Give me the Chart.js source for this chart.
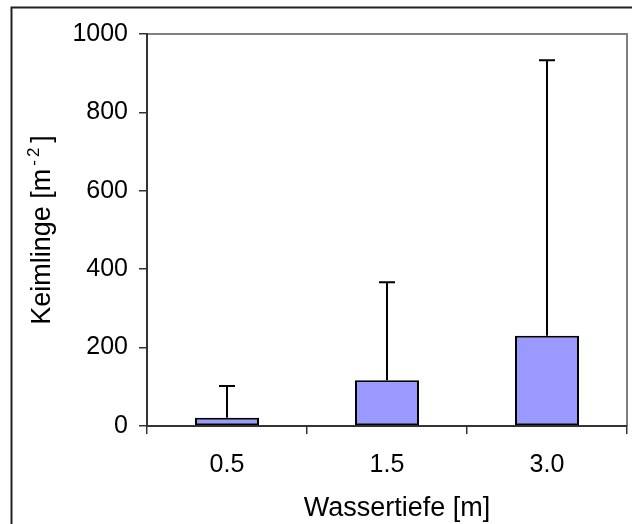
<!DOCTYPE html>
<html>
<head>
<meta charset="utf-8">
<script src="https://cdn.jsdelivr.net/npm/chart.js@4/dist/chart.umd.min.js"></script>
<style>
  html, body { margin: 0; padding: 0; background: #fff; }
  #wrap { position: relative; width: 632px; height: 524px; }
</style>
</head>
<body>
<div id="wrap"><canvas id="chart" width="632" height="524"></canvas></div>
<script>
    // Daten
    var depthLabels = ['0.5', '1.5', '3.0'];
    var meanValues = [21, 117, 230];
    var upperValues = [102, 367, 933];
    var yTicks = [0, 200, 400, 600, 800, 1000];

    var FONT = '"Liberation Sans", Arial, sans-serif';
    var TICK_SIZE = 25;
    var TITLE_SIZE = 27;

    // Rahmen: äußere Linien oben/links, Plotfläche grau oben/rechts
    var framePlugin = {
        id: 'frame',
        beforeDraw: function (chart) {
            var ctx = chart.ctx;
            var a = chart.chartArea;
            ctx.save();
            ctx.fillStyle = '#fff';
            ctx.fillRect(0, 0, chart.width, chart.height);
            ctx.strokeStyle = '#222';
            ctx.lineWidth = 2;
            ctx.beginPath();
            ctx.moveTo(11.5, chart.height + 2);
            ctx.lineTo(11.5, 7.5);
            ctx.lineTo(chart.width + 2, 7.5);
            ctx.stroke();
            ctx.strokeStyle = '#808080';
            ctx.lineWidth = 2;
            ctx.beginPath();
            ctx.moveTo(a.left, a.top);
            ctx.lineTo(a.right, a.top);
            ctx.lineTo(a.right, a.bottom);
            ctx.stroke();
            ctx.restore();
        }
    };

    // Fehlerbalken nur nach oben
    var errorBarPlugin = {
        id: 'errorBars',
        afterDatasetsDraw: function (chart) {
            var ctx = chart.ctx;
            var meta = chart.getDatasetMeta(0);
            var yScale = chart.scales.y;
            ctx.save();
            ctx.strokeStyle = '#000';
            ctx.lineWidth = 2;
            for (var i = 0; i < meta.data.length; i++) {
                var x = Math.round(meta.data[i].x);
                var y0 = yScale.getPixelForValue(meanValues[i]);
                var y1 = yScale.getPixelForValue(upperValues[i]);
                ctx.beginPath();
                ctx.moveTo(x, y0);
                ctx.lineTo(x, y1);
                ctx.moveTo(x - 8, y1);
                ctx.lineTo(x + 8, y1);
                ctx.stroke();
            }
            ctx.restore();
        }
    };

    // Achsentitel (y mit Hochstellung m^-2)
    var titlePlugin = {
        id: 'titles',
        afterDraw: function (chart) {
            var ctx = chart.ctx;
            var a = chart.chartArea;
            ctx.save();
            ctx.fillStyle = '#000';
            ctx.font = TITLE_SIZE + 'px ' + FONT;
            ctx.textAlign = 'center';
            ctx.textBaseline = 'alphabetic';
            ctx.fillText('Wassertiefe [m]', 397, 516);

            // y-Titel gedreht
            var main = 'Keimlinge [m';
            var supSize = Math.round(TITLE_SIZE * 0.62);
            ctx.font = TITLE_SIZE + 'px ' + FONT;
            var wMain = ctx.measureText(main).width;
            var wClose = ctx.measureText(']').width;
            ctx.font = supSize + 'px ' + FONT;
            var wMinus = ctx.measureText('-').width;
            var wTwo = ctx.measureText('2').width;
            var gap1 = 3, gap2 = 3, gap3 = 5;
            var total = wMain + gap1 + wMinus + gap2 + wTwo + gap3 + wClose;
            ctx.translate(50, (a.top + a.bottom) / 2);
            ctx.rotate(-Math.PI / 2);
            ctx.textAlign = 'left';
            var x = -total / 2;
            ctx.font = TITLE_SIZE + 'px ' + FONT;
            ctx.fillText(main, x, 0);
            x += wMain + gap1;
            ctx.font = supSize + 'px ' + FONT;
            ctx.fillText('-', x, -TITLE_SIZE * 0.42);
            x += wMinus + gap2;
            ctx.fillText('2', x, -TITLE_SIZE * 0.42);
            x += wTwo + gap3;
            ctx.font = TITLE_SIZE + 'px ' + FONT;
            ctx.fillText(']', x, 0);
            ctx.restore();
        }
    };

    var ctx = document.getElementById('chart').getContext('2d');
    new Chart(ctx, {
        type: 'bar',
        data: {
            labels: depthLabels,
            datasets: [{
                data: meanValues,
                backgroundColor: '#9999FF',
                borderColor: '#000',
                borderWidth: 2,
                borderSkipped: false,
                barPercentage: 0.4,
                categoryPercentage: 1.0
            }]
        },
        options: {
            responsive: false,
            animation: false,
            events: [],
            layout: { padding: { top: 34, right: 5, left: 0, bottom: 0 } },
            plugins: {
                legend: { display: false },
                tooltip: { enabled: false }
            },
            scales: {
                x: {
                    offset: true,
                    grid: {
                        display: true,
                        offset: true,
                        drawOnChartArea: false,
                        tickLength: 8,
                        color: '#333',
                        lineWidth: 1.5
                    },
                    border: { display: true, color: '#333', width: 2 },
                    ticks: {
                        color: '#000',
                        padding: 16,
                        font: { family: FONT, size: TICK_SIZE }
                    },
                    afterFit: function (scale) { scale.height = 98; }
                },
                y: {
                    min: 0,
                    max: 1000,
                    afterBuildTicks: function (scale) {
                        scale.ticks = yTicks.map(function (v) { return { value: v }; });
                    },
                    grid: {
                        display: true,
                        drawOnChartArea: false,
                        tickLength: 8,
                        color: '#333',
                        lineWidth: 1.5
                    },
                    border: { display: true, color: '#333', width: 2 },
                    ticks: {
                        color: '#000',
                        padding: 11,
                        font: { family: FONT, size: TICK_SIZE },
                        callback: function (value) { return String(value); }
                    },
                    afterFit: function (scale) { scale.width = 147; }
                }
            }
        },
        plugins: [framePlugin, errorBarPlugin, titlePlugin]
    });
</script>
</body>
</html>
